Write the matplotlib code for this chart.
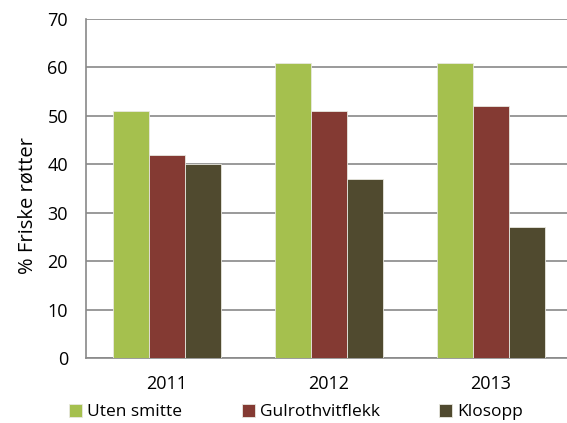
import numpy as np
import matplotlib.pyplot as plt

plt.rcParams['font.family'] = ['Open Sans', 'DejaVu Sans']

years = ["2011", "2012", "2013"]
uten_smitte = [51, 61, 61]
gulrothvitflekk = [42, 51, 52]
klosopp = [40, 37, 27]

series = [
    ("Uten smitte", uten_smitte, "#a5c04e"),
    ("Gulrothvitflekk", gulrothvitflekk, "#843a33"),
    ("Klosopp", klosopp, "#504a2f"),
]

fig = plt.figure(figsize=(5.67, 4.23), dpi=100)
ax = fig.add_axes([86 / 567, 1 - 358 / 423, 486 / 567, 339 / 423])

x = np.arange(len(years))
w = 1 / 4.5
for i, (name, vals, col) in enumerate(series):
    ax.bar(x + (i - 1) * w, vals, width=w, color=col, edgecolor="#e8e8e0",
           linewidth=0.6, label=name, zorder=3)

ax.set_xlim(-0.5, 2.5)
ax.set_ylim(0, 70)
ax.set_yticks(range(0, 71, 10))
ax.set_xticks(x)
ax.set_xticklabels(years)
ax.yaxis.grid(True, color="#898989", linewidth=1.2, zorder=0)
ax.set_axisbelow(True)

for s in ["top", "right"]:
    ax.spines[s].set_visible(False)
for s in ["left", "bottom"]:
    ax.spines[s].set_color("#898989")
    ax.spines[s].set_linewidth(1.2)

ax.tick_params(axis="both", length=0, labelsize=13, colors="black")
ax.tick_params(axis="y", pad=13)
ax.tick_params(axis="x", pad=12)

# y label sits a bit below the axis centre in the original
fig.text(28 / 567, 1 - 206 / 423, "% Friske røtter", rotation=90,
         ha="center", va="center", fontsize=14.5)

handles, labels = ax.get_legend_handles_labels()
fig.legend(handles, labels, loc="center", bbox_to_anchor=(296 / 567, 1 - 412 / 423),
           ncol=3, frameon=False, fontsize=12.5, handlelength=0.75,
           handleheight=0.75, handletextpad=0.3, columnspacing=3.4)

fig.savefig("out.png", dpi=100)
